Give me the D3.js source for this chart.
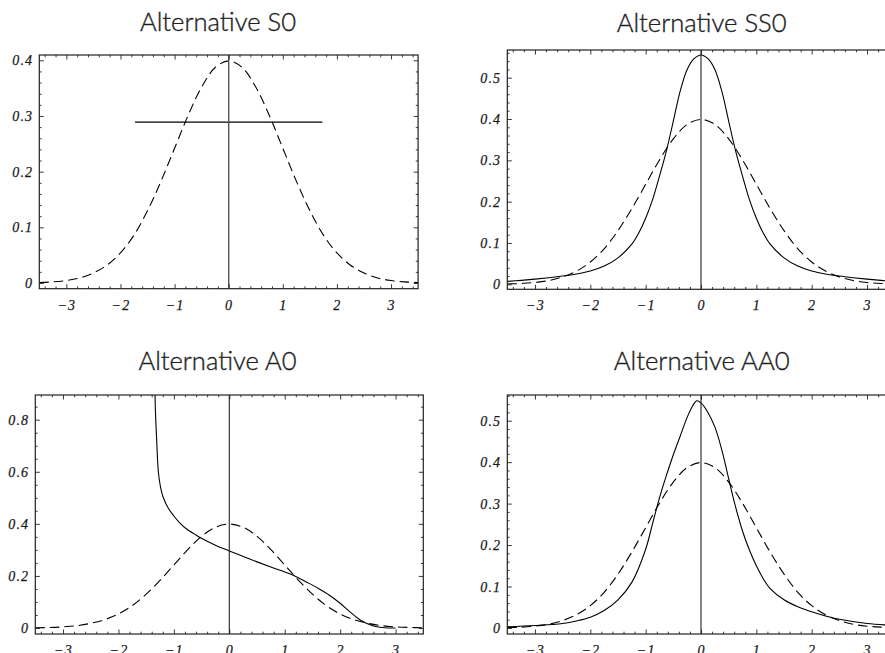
<!DOCTYPE html>
<html>
<head>
<meta charset="utf-8">
<script src="https://cdn.jsdelivr.net/npm/d3@7"></script>
<style>
  html, body { margin: 0; padding: 0; background: #fff; }
  svg { display: block; }
  .tick text { font-family: "Liberation Serif", "Times New Roman", serif; font-style: italic; font-size: 14px; fill: #1a1a1a; stroke: #1a1a1a; stroke-width: 0.25px; }
  .title { font-family: "Lato", "Liberation Sans", sans-serif; font-weight: 300; font-size: 25px; fill: #1e1e1e; stroke: #1e1e1e; stroke-width: 0.35px; }
</style>
</head>
<body>
<svg id="chart" width="885" height="653"></svg>
<script>
// ---------------- data ----------------
const titles = ["Alternative S0", "Alternative SS0", "Alternative A0", "Alternative AA0"];
const titleWidths = [156, 170, 158, 176];
const xTicks = [-3, -2, -1, 0, 1, 2, 3];
const yTicksS0 = [0, 0.1, 0.2, 0.3, 0.4];
const yTicksSS0 = [0, 0.1, 0.2, 0.3, 0.4, 0.5];
const yTicksA0 = [0, 0.2, 0.4, 0.6, 0.8];
const yTicksAA0 = [0, 0.1, 0.2, 0.3, 0.4, 0.5];

// dashed reference density (same in all four panels)
const normalX = [-3.5, -3.25, -3, -2.75, -2.5, -2.25, -2, -1.75, -1.5, -1.25, -1, -0.75, -0.5, -0.25, 0,
                 0.25, 0.5, 0.75, 1, 1.25, 1.5, 1.75, 2, 2.25, 2.5, 2.75, 3, 3.25, 3.5];
const normalY = [0.0009, 0.002, 0.0044, 0.009, 0.018, 0.032, 0.054, 0.086, 0.130, 0.183, 0.242, 0.301, 0.352, 0.387, 0.399,
                 0.387, 0.352, 0.301, 0.242, 0.183, 0.130, 0.086, 0.054, 0.032, 0.018, 0.009, 0.0044, 0.002, 0.0009];

// S0: flat solid segment
const s0X = [-1.73, 1.73];
const s0Y = [0.289, 0.289];

// SS0 solid curve
const ss0X = [-3.5, -3.25, -3, -2.75, -2.5, -2.25, -2, -1.75, -1.5, -1.25, -1.125, -1, -0.875, -0.75, -0.625, -0.5, -0.375, -0.25, -0.125, 0,
              0.125, 0.25, 0.375, 0.5, 0.625, 0.75, 0.875, 1, 1.125, 1.25, 1.5, 1.75, 2, 2.25, 2.5, 2.75, 3, 3.25, 3.5];
const ss0Y = [0.007, 0.0095, 0.0125, 0.016, 0.020, 0.025, 0.032, 0.044, 0.064, 0.097, 0.124, 0.160, 0.205, 0.262, 0.323, 0.395, 0.468, 0.520, 0.546, 0.555,
              0.546, 0.520, 0.468, 0.395, 0.323, 0.262, 0.205, 0.160, 0.124, 0.097, 0.064, 0.044, 0.032, 0.025, 0.020, 0.016, 0.0125, 0.0095, 0.007];

// A0 solid curve
const a0X = [-1.345, -1.335, -1.31, -1.28, -1.24, -1.19, -1.1, -1.0, -0.9, -0.77, -0.6, -0.52, -0.25, 0,
             0.25, 0.5, 0.75, 1.0, 1.2, 1.4, 1.6, 1.8, 2.0, 2.2, 2.4, 2.6, 2.8, 3.0];
const a0Y = [1.0, 0.85, 0.72, 0.60, 0.54, 0.50, 0.46, 0.43, 0.405, 0.38, 0.357, 0.347, 0.318, 0.296,
             0.275, 0.254, 0.234, 0.215, 0.198, 0.176, 0.153, 0.127, 0.095, 0.058, 0.026, 0.008, 0.001, 0.0];

// AA0 solid curve
const aa0X = [-3.5, -3, -2.5, -2.25, -2, -1.75, -1.5, -1.25, -1, -0.875, -0.75, -0.625, -0.5, -0.375, -0.25, -0.15, -0.08, 0,
              0.125, 0.25, 0.375, 0.5, 0.625, 0.75, 0.875, 1, 1.125, 1.25, 1.5, 1.75, 2, 2.25, 2.5, 3, 3.5];
const aa0Y = [0.003, 0.006, 0.011, 0.017, 0.026, 0.042, 0.068, 0.110, 0.190, 0.252, 0.314, 0.368, 0.418, 0.463, 0.508, 0.536, 0.548, 0.543,
              0.520, 0.485, 0.430, 0.360, 0.292, 0.234, 0.188, 0.150, 0.119, 0.095, 0.068, 0.051, 0.039, 0.029, 0.021, 0.011, 0.006];

// ---------------- layout ----------------
const panels = [
  { l: 39.3, r: 418.1, t: 55, b: 288.7, tx: 218, ty: 31, yDom: [-0.01024, 0.4095], yMajor: yTicksS0, yMinor: 0.02,
    series: [{ x: normalX, y: normalY, dashed: true }, { x: s0X, y: s0Y, dashed: false }] },
  { l: 507.3, r: 894.7, t: 50, b: 289.3, tx: 701.7, ty: 31.5, yDom: [-0.0121, 0.567], yMajor: yTicksSS0, yMinor: 0.02,
    series: [{ x: normalX, y: normalY, dashed: true }, { x: ss0X, y: ss0Y, dashed: false }] },
  { l: 35.3, r: 423.3, t: 395, b: 634, tx: 217.5, ty: 370, yDom: [-0.023, 0.8948], yMajor: yTicksA0, yMinor: 0.05,
    series: [{ x: normalX, y: normalY, dashed: true }, { x: a0X, y: a0Y, dashed: false }] },
  { l: 507.3, r: 894.7, t: 395, b: 634, tx: 701.7, ty: 370, yDom: [-0.01447, 0.562], yMajor: yTicksAA0, yMinor: 0.02,
    series: [{ x: normalX, y: normalY, dashed: true }, { x: aa0X, y: aa0Y, dashed: false }] }
];

const svg = d3.select("#chart");
const fmt = v => {
  if (v === 0) return "0";
  let s = d3.format("~g")(Math.round(v * 1000) / 1000);
  return s.replace("-", "\u2212");
};
const MAJ = 4.5, MIN = 2.3;

panels.forEach((p, i) => {
  const g = svg.append("g");
  const x = d3.scaleLinear().domain([-3.5, 3.5]).range([p.l, p.r]);
  const y = d3.scaleLinear().domain(p.yDom).range([p.b, p.t]);

  const xMinor = d3.range(-3.4, 3.41, 0.2).map(v => Math.round(v * 10) / 10).filter(v => !xTicks.includes(v));
  const yMinor = d3.range(0, p.yDom[1], p.yMinor).map(v => Math.round(v * 1000) / 1000)
    .filter(v => !p.yMajor.some(m => Math.abs(m - v) < 1e-9) && v <= p.yDom[1]);

  const clipId = "clip" + i;
  svg.append("clipPath").attr("id", clipId).append("rect")
    .attr("x", p.l).attr("y", p.t).attr("width", p.r - p.l).attr("height", p.b - p.t);

  // curves
  const plot = g.append("g").attr("clip-path", `url(#${clipId})`);
  p.series.forEach(s => {
    const pts = s.x.map((xv, k) => [xv, s.y[k]]);
    const line = d3.line().x(d => x(d[0])).y(d => y(d[1]))
      .curve(pts.length > 2 ? d3.curveCatmullRom.alpha(0.5) : d3.curveLinear);
    plot.append("path").attr("d", line(pts))
      .attr("fill", "none").attr("stroke", "#000").attr("stroke-width", 1.1)
      .attr("stroke-dasharray", s.dashed ? "9.5,5" : null);
  });

  // vertical axis at x = 0
  g.append("line").attr("x1", x(0)).attr("x2", x(0)).attr("y1", p.t).attr("y2", p.b)
    .attr("stroke", i === 0 ? "#555" : "#222").attr("stroke-width", i === 0 ? 1.4 : 1.1);

  // frame ticks (inside) via d3 axes
  const addAxis = (axis, tf) => {
    const a = g.append("g").attr("transform", tf).call(axis);
    a.select(".domain").remove();
    a.selectAll(".tick line").attr("stroke", "#222").attr("stroke-width", 0.9);
    return a;
  };
  addAxis(d3.axisBottom(x).tickValues(xTicks).tickSize(-MAJ).tickPadding(11).tickFormat(fmt), `translate(0,${p.b})`);
  addAxis(d3.axisBottom(x).tickValues(xMinor).tickSize(-MIN).tickFormat(""), `translate(0,${p.b})`);
  addAxis(d3.axisTop(x).tickValues(xTicks).tickSize(-MAJ).tickFormat(""), `translate(0,${p.t})`);
  addAxis(d3.axisTop(x).tickValues(xMinor).tickSize(-MIN).tickFormat(""), `translate(0,${p.t})`);
  addAxis(d3.axisLeft(y).tickValues(p.yMajor).tickSize(-MAJ).tickPadding(6).tickFormat(fmt), `translate(${p.l},0)`);
  addAxis(d3.axisLeft(y).tickValues(yMinor).tickSize(-MIN).tickFormat(""), `translate(${p.l},0)`);
  addAxis(d3.axisRight(y).tickValues(p.yMajor).tickSize(-MAJ).tickFormat(""), `translate(${p.r},0)`);
  addAxis(d3.axisRight(y).tickValues(yMinor).tickSize(-MIN).tickFormat(""), `translate(${p.r},0)`);

  g.selectAll(".tick text").style("letter-spacing", "1.2px");

  // frame
  g.append("rect").attr("x", p.l).attr("y", p.t).attr("width", p.r - p.l).attr("height", p.b - p.t)
    .attr("fill", "none").attr("stroke", "#222").attr("stroke-width", 1.2);

  // title
  g.append("text").attr("class", "title").attr("x", p.tx).attr("y", p.ty)
    .attr("text-anchor", "middle")
    .attr("textLength", titleWidths[i]).attr("lengthAdjust", "spacingAndGlyphs")
    .text(titles[i]);
});
</script>
</body>
</html>
